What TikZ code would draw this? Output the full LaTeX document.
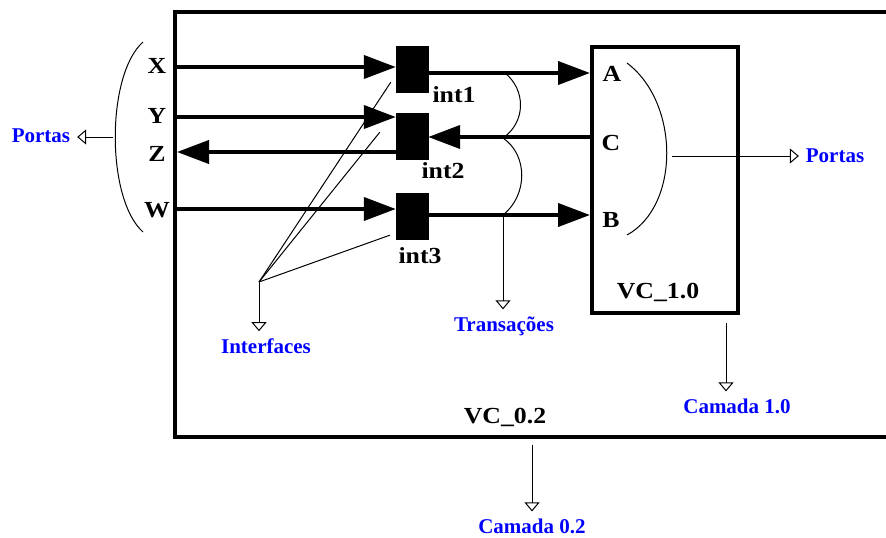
\documentclass[tikz,border=0pt]{standalone}
\usepackage{fontspec}
\setmainfont{Liberation Serif}
\newfontfamily\wideserif{Liberation Serif}[FakeStretch=1.12]
\usetikzlibrary{arrows.meta,calc}

\begin{document}
\begin{tikzpicture}[x=1pt, y=-1pt,
  port/.style={font=\wideserif\bfseries\fontsize{23}{26}\selectfont,
               inner sep=0pt, anchor=base},
  note/.style={font=\bfseries\fontsize{21}{24}\selectfont, text=blue,
               inner sep=0pt, outer sep=7pt, anchor=base},
  ifbox/.style={draw, fill=black, minimum width=32pt, minimum height=46pt,
                inner sep=0pt},
  sig/.style={line width=4pt, -{Triangle[length=32pt, width=23pt]}},
  ptr/.style={line width=1pt, -{Triangle[open, length=9pt, width=15pt]}},
  wire/.style={line width=1pt}
]
\useasboundingbox (0,0) rectangle (886,538);

% layer VC_0.2 (runs off the right edge)
\draw[line width=4pt] (900,12) -| (175,437) -- (900,437);
\node[port] (vc02) at (505,423) {VC\_0.2};

% layer VC_1.0
\node[draw, line width=4pt, minimum width=146pt, minimum height=266pt,
      inner sep=0pt] (vc10) at (665,180) {};
\node[port] (vc10l) at (658,298) {VC\_1.0};

% ports
\node[port] (X) at (157,73)  {X};
\node[port] (Y) at (157,123) {Y};
\node[port] (Z) at (157,161) {Z};
\node[port] (W) at (157,217) {W};
\node[port] (A) at (612,81)  {A};
\node[port] (C) at (611,150) {C};
\node[port] (B) at (611,227) {B};

% interfaces
\node[ifbox] (int1) at (412,69)  {};
\node[ifbox] (int2) at (412,136) {};
\node[ifbox] (int3) at (412,216) {};
\node[port] (int1l) at (454,102) {int1};
\node[port] (int2l) at (443,178) {int2};
\node[port] (int3l) at (420,263) {int3};

\coordinate (xin)  at (175,67);
\coordinate (yin)  at (175,117);
\coordinate (zout) at (177,152);
\coordinate (win)  at (175,209);
\coordinate (ain)  at (592,73);
\coordinate (cout) at (592,137);
\coordinate (bin)  at (592,215);

\draw[sig] (xin) -- (xin -| int1.west);
\draw[sig] (yin) -- (yin -| int2.west);
\draw[sig] (int2.west |- zout) -- (zout);
\draw[sig] (win) -- (win -| int3.west);
\draw[sig] (int1.east |- ain) -- (vc10.west |- ain);
\draw[sig] (vc10.west |- cout) -- (int2.east |- cout);
\draw[sig] (int3.east |- bin) -- (vc10.west |- bin);

% port groups
\draw[wire] (143,42) .. controls (106,75) and (106,199) .. (143,232);
\coordinate (lbr) at (113,137);
\node[note] (portasl) at (41,142) {Portas};
\draw[ptr] (lbr) -- (lbr -| portasl.east);

\draw[wire] (627,63) .. controls (680,103) and (680,206) .. (627,235);
\coordinate (rbr) at (672,156);
\node[note] (portasr) at (835,162) {Portas};
\draw[ptr] (rbr) -- (rbr -| portasr.west);

% transactions
\draw[wire] (505,73) .. controls (526,90) and (526,122) .. (503,138)
            .. controls (528,155) and (528,195) .. (503,215);
\coordinate (tr) at (503,215);
\node[note] (transl) at (504,331) {Transações};
\draw[ptr] (tr) -- (tr |- transl.north);

% interfaces pointer
\coordinate (ifc) at (259,282);
\draw[wire] (ifc) -- ([xshift=-5pt, yshift=10pt]int1.south west);
\draw[wire] (ifc) -- ([xshift=-16pt, yshift=27pt]int2.south west);
\draw[wire] (ifc) -- ([xshift=-6pt, yshift=4pt]int3.south west);
\node[note] (ifcl) at (266,353) {Interfaces};
\draw[ptr] (ifc) -- (ifc |- ifcl.north);

% layers
\coordinate (c10) at (726,323);
\node[note] (cam10) at (737,413) {Camada 1.0};
\draw[ptr] (c10) -- (c10 |- cam10.north);

\coordinate (c02) at (532,445);
\node[note] (cam02) at (532,533) {Camada 0.2};
\draw[ptr] (c02) -- (c02 |- cam02.north);
\end{tikzpicture}
\end{document}
